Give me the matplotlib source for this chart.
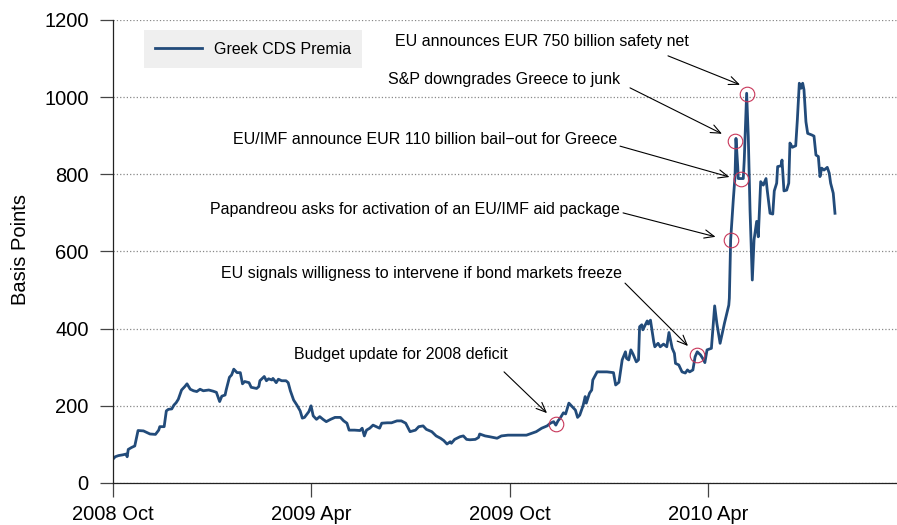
import numpy as np
import matplotlib
matplotlib.use("Agg")
import matplotlib.pyplot as plt
import matplotlib.dates as mdates

plt.rcParams['font.family'] = ['Liberation Sans', 'DejaVu Sans']

# --- data (days since 2008-10-01, basis points) ---
START = '2008-10-01'
days = [0, 2, 5, 9, 12, 13, 14, 17, 20, 23, 28, 31, 34, 39, 42, 43, 47, 49, 51, 54,
        56, 58, 60, 63, 66, 68, 71, 74, 77, 80, 83, 88, 92, 95, 98, 100, 103, 104, 107, 109,
        111, 114, 117, 119, 121, 125, 127, 132, 134, 135, 139, 141, 143, 146, 147, 150, 152, 155, 159, 161,
        163, 166, 169, 172, 174, 176, 180, 182, 184, 187, 190, 193, 196, 200, 204, 209, 212, 215, 217, 222,
        227, 229, 231, 233, 236, 239, 242, 245, 247, 252, 256, 261, 265, 269, 273, 278, 281, 285, 288, 293,
        297, 301, 304, 307, 310, 311, 314, 319, 322, 325, 328, 333, 336, 337, 342, 346, 353, 357, 363, 369,
        376, 380, 385, 389, 394, 399, 402, 405, 407, 409, 411, 414, 416, 419, 422, 425, 427, 429, 432, 434,
        435, 438, 440, 441, 445, 448, 454, 460, 462, 465, 468, 471, 472, 474, 476, 478, 481, 483, 484, 486,
        487, 491, 492, 494, 497, 498, 501, 503, 506, 509, 511, 514, 516, 517, 520, 523, 526, 528, 530, 533,
        535, 537, 540, 542, 544, 546, 550, 553, 555, 558, 562, 566, 566.5, 567.7, 570.1, 571.7, 572.6, 574.2, 574.7, 579.3,
        580.2, 582.4, 583.9, 585.5, 587.6, 589.2, 591.6, 593.1, 595.3, 597.7, 600.2, 601.4, 603.9, 606.4, 607.8, 610, 610.9, 614, 614.9, 616.7,
        619.2, 621.1, 622.2, 624.4, 627.5, 629, 630.8, 632.4, 633.9, 635.1, 636.9, 638.5, 642.2, 644.3, 646.1, 648.3, 649.8, 651.4, 653.5, 656.5,
        658.3, 659.6, 662, 663.6]
cds = [62, 68, 71, 73, 75, 68, 87, 92, 96, 136, 135, 131, 127, 126, 137, 146, 146, 187, 191, 192,
       202, 208, 217, 241, 250, 257, 243, 239, 237, 243, 239, 241, 238, 235, 211, 225, 228, 241, 274, 280,
       295, 286, 286, 257, 263, 260, 248, 245, 250, 265, 276, 265, 270, 267, 271, 260, 269, 265, 265, 260,
       239, 215, 202, 187, 168, 170, 185, 200, 174, 165, 172, 165, 159, 165, 170, 170, 161, 155, 137, 137,
       136, 142, 122, 137, 142, 150, 146, 142, 155, 156, 156, 161, 161, 155, 133, 137, 146, 148, 139, 133,
       122, 116, 110, 101, 107, 103, 113, 120, 122, 113, 112, 113, 118, 127, 122, 120, 116, 122, 124, 124,
       124, 124, 129, 133, 142, 148, 155, 159, 150, 161, 168, 182, 179, 207, 198, 189, 170, 176, 200, 224,
       207, 233, 241, 267, 288, 288, 288, 286, 254, 261, 319, 340, 323, 319, 345, 334, 314, 319, 405, 410,
       397, 420, 412, 422, 366, 353, 362, 353, 360, 353, 390, 349, 336, 310, 306, 288, 285, 293, 288, 293,
       327, 340, 332, 323, 312, 345, 349, 459, 414, 362, 414, 461, 479, 630, 733, 794, 893, 820, 789, 789,
       837, 1010, 898, 708, 526, 630, 678, 638, 781, 772, 789, 757, 699, 697, 757, 777, 820, 822, 837, 757,
       759, 777, 881, 870, 874, 941, 1036, 1023, 1036, 1019, 936, 906, 902, 899, 850, 846, 794, 816, 811, 818,
       803, 777, 751, 699]

# events: circle position, arrow tail/head, text centre
ev_text = ['EU announces EUR 750 billion safety net',
           'S&P downgrades Greece to junk',
           'EU/IMF announce EUR 110 billion bail\u2212out for Greece',
           'Papandreou asks for activation of an EU/IMF aid package',
           'EU signals willigness to intervene if bond markets freeze',
           'Budget update for 2008 deficit']
ev_day = [582.4, 572.0, 577.0, 567.6, 536.8, 407.2]
ev_val = [1008, 887, 787, 630, 332, 153]
txt_day = [393.8, 359.8, 287.2, 277.8, 283.1, 264.2]
txt_val = [1143, 1045, 889, 708, 542, 334]
tail_day = [510.1, 475.2, 466.0, 468.8, 470.6, 359.4]
tail_val = [1107, 1024, 873, 700, 518, 288]
head_day = [576.3, 559.7, 566.6, 553.8, 528.5, 398.9]
head_val = [1032, 905, 793, 638, 355, 181]

t0 = mdates.datestr2num(START)
x = t0 + np.array(days)

fig = plt.figure(figsize=(8.97, 5.25), dpi=100)
ax = fig.add_axes([0.126, 0.08, 0.874, 0.882])

line_col = '#224b7a'
ax.plot(x, cds, color=line_col, lw=2.0, label='Greek CDS Premia', solid_joinstyle='round')

ax.plot(t0 + np.array(ev_day), ev_val, 'o', ms=10.5, mfc='none', mec='#c8375a', mew=0.8)

for i in range(len(ev_text)):
    ax.text(t0 + txt_day[i], txt_val[i], ev_text[i], ha='center', va='center', fontsize=11.5)
    ax.annotate('', xy=(t0 + head_day[i], head_val[i]), xytext=(t0 + tail_day[i], tail_val[i]),
                arrowprops=dict(arrowstyle='->,head_length=0.7,head_width=0.3', lw=0.8,
                                color='black', shrinkA=0, shrinkB=0))

ax.set_xlim(t0, t0 + 720.6)
ax.set_ylim(0, 1200)
ax.set_yticks(range(0, 1201, 200))
ax.yaxis.grid(True, linestyle=':', color='#888888', lw=0.9)
ax.set_axisbelow(True)

ticks = [mdates.datestr2num(d) for d in ['2008-10-01', '2009-04-01', '2009-10-01', '2010-04-01']]
ax.set_xticks(ticks)
ax.set_xticklabels(['2008 Oct', '2009 Apr', '2009 Oct', '2010 Apr'])

for s in ['top', 'right']:
    ax.spines[s].set_visible(False)
for s in ['left', 'bottom']:
    ax.spines[s].set_color('#222222')
    ax.spines[s].set_linewidth(0.9)
ax.tick_params(axis='y', length=9.5, width=0.9, color='#444444', labelsize=14.5, pad=8)
ax.tick_params(axis='x', length=10, width=0.9, color='#444444', labelsize=14.5, pad=6)

ax.set_ylabel('Basis Points', fontsize=14.5)
ax.yaxis.set_label_coords(-0.106, 0.505)

leg = ax.legend(loc='upper left', bbox_to_anchor=(0.0395, 0.978), borderaxespad=0,
                fontsize=11.5, handlelength=2.9, handletextpad=0.75, borderpad=0.72,
                fancybox=False, framealpha=1)
leg.get_frame().set_facecolor('#efefef')
leg.get_frame().set_edgecolor('none')

fig.savefig('out.png', dpi=100)
